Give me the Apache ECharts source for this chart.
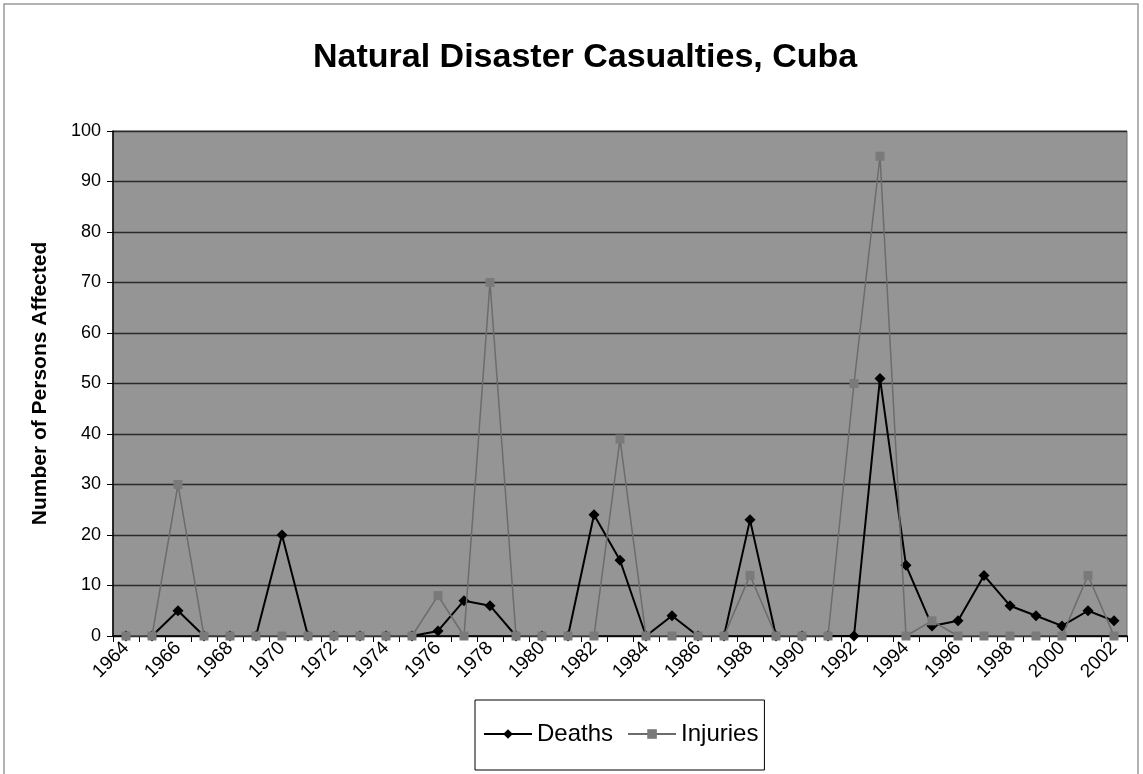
<!DOCTYPE html>
<html>
<head>
<meta charset="utf-8">
<script src="https://cdn.jsdelivr.net/npm/echarts@6/dist/echarts.min.js"></script>
<style>
  html, body { margin: 0; padding: 0; background: #fff; }
  #chart { width: 1143px; height: 774px; }
</style>
</head>
<body>
<div id="chart"></div>
<script>
// Years on the category axis
const years = [
  '1964','1965','1966','1967','1968','1969','1970','1971','1972','1973',
  '1974','1975','1976','1977','1978','1979','1980','1981','1982','1983',
  '1984','1985','1986','1987','1988','1989','1990','1991','1992','1993',
  '1994','1995','1996','1997','1998','1999','2000','2001','2002'
];

// Casualties per year
const deaths = [
  0, 0, 5, 0, 0, 0, 20, 0, 0, 0,
  0, 0, 1, 7, 6, 0, 0, 0, 24, 15,
  0, 4, 0, 0, 23, 0, 0, 0, 0, 51,
  14, 2, 3, 12, 6, 4, 2, 5, 3
];
const injuries = [
  0, 0, 30, 0, 0, 0, 0, 0, 0, 0,
  0, 0, 8, 0, 70, 0, 0, 0, 0, 39,
  0, 0, 0, 0, 12, 0, 0, 0, 50, 95,
  0, 3, 0, 0, 0, 0, 0, 12, 0
];

const FONT = '"Liberation Sans", Arial, sans-serif';

const chart = echarts.init(document.getElementById('chart'), null, { renderer: 'canvas' });

chart.setOption({
  backgroundColor: '#ffffff',
  animation: false,
  textStyle: { fontFamily: FONT, color: '#000' },
  graphic: [{
    type: 'rect',
    shape: { x: 4, y: 4, width: 1134, height: 790 },
    style: { fill: 'none', stroke: '#9a9a9a', lineWidth: 1.5 },
    silent: true
  }],
  title: {
    text: 'Natural Disaster Casualties, Cuba',
    left: 308,
    top: 36,
    textStyle: { fontFamily: FONT, fontWeight: 'bold', fontSize: 34, color: '#000' }
  },
  legend: {
    data: ['Deaths', 'Injuries'],
    left: 475,
    top: 700,
    itemWidth: 48,
    itemHeight: 12,
    itemGap: 14,
    padding: [22, 6, 24, 8],
    borderColor: '#000',
    borderWidth: 1,
    textStyle: { fontFamily: FONT, fontSize: 24, color: '#000' }
  },
  grid: {
    left: 113,
    right: 16,
    top: 131,
    bottom: 138,
    show: true,
    backgroundColor: '#959595',
    borderColor: '#6a6a6a',
    borderWidth: 1
  },
  xAxis: {
    type: 'category',
    data: years,
    boundaryGap: true,
    axisLine: { show: true, lineStyle: { color: '#000', width: 1.5 } },
    axisTick: { show: true, interval: 0, length: 6, lineStyle: { color: '#000' } },
    axisLabel: {
      interval: 1,
      rotate: 45,
      margin: 9,
      fontFamily: FONT,
      fontSize: 19,
      color: '#000'
    },
    splitLine: { show: false }
  },
  yAxis: {
    type: 'value',
    min: 0,
    max: 100,
    interval: 10,
    name: 'Number of Persons Affected',
    nameLocation: 'middle',
    nameGap: 62,
    nameTextStyle: { fontFamily: FONT, fontWeight: 'bold', fontSize: 21, color: '#000' },
    axisLine: { show: true, lineStyle: { color: '#000', width: 1.5 } },
    axisTick: { show: true, length: 6, lineStyle: { color: '#000' } },
    axisLabel: { fontFamily: FONT, fontSize: 18, color: '#000', margin: 12 },
    splitLine: { show: true, lineStyle: { color: '#2a2a2a', width: 1.4 } }
  },
  series: [
    {
      name: 'Deaths',
      type: 'line',
      data: deaths,
      symbol: 'diamond',
      symbolSize: 11,
      showAllSymbol: true,
      itemStyle: { color: '#000' },
      lineStyle: { color: '#000', width: 2 },
      z: 2
    },
    {
      name: 'Injuries',
      type: 'line',
      data: injuries,
      symbol: 'rect',
      symbolSize: 9,
      showAllSymbol: true,
      itemStyle: { color: '#7a7a7a' },
      lineStyle: { color: '#6c6c6c', width: 1.5 },
      z: 3
    }
  ]
});
</script>
</body>
</html>
